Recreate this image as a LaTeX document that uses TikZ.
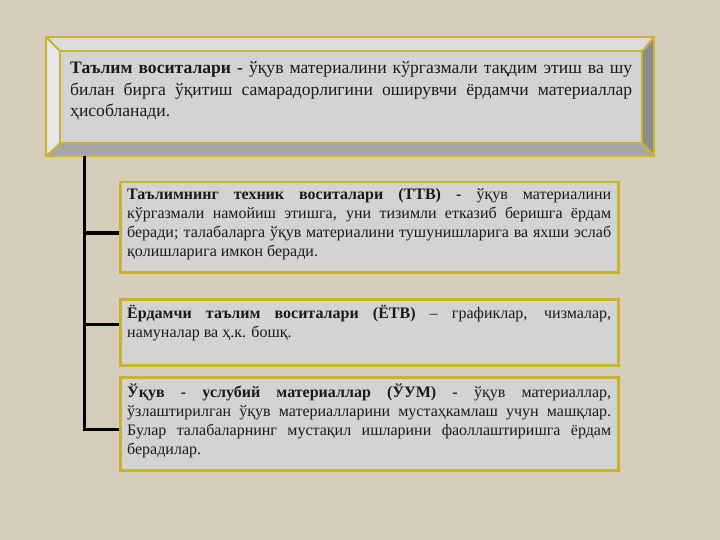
\documentclass[tikz,border=0pt]{standalone}
\usepackage{fontspec}
\setmainfont{Liberation Serif}
\definecolor{bgc}{HTML}{D6CDBA}
\definecolor{boxfill}{HTML}{D3D3D3}
\definecolor{ybord}{HTML}{C9B42E}
\definecolor{facetop}{HTML}{DCDCDC}
\definecolor{faceleft}{HTML}{E6E6E6}
\definecolor{faceright}{HTML}{8C8C8C}
\definecolor{facebot}{HTML}{A6A6A6}
\definecolor{txtc}{HTML}{1A1A1A}
\tikzset{
  subbox/.style={draw=ybord, line width=2.5pt, fill=boxfill, inner sep=0pt, anchor=north west},
  topframe/.style={inner sep=0pt, anchor=north west},
  txt/.style={inner sep=0pt, anchor=base west, text=txtc},
  conn/.style={line width=3pt, black},
  yline/.style={draw=ybord, line width=2pt, line join=miter}
}
\begin{document}
\begin{tikzpicture}[x=1pt,y=-1pt]
\useasboundingbox (0,0) rectangle (720,540);
\fill[bgc] (0,0) rectangle (720,540);

% top bevelled box
\node[topframe, minimum width=608pt, minimum height=119pt] (top) at (46,37) {};
\node[topframe, minimum width=582pt, minimum height=92pt] (topin) at (60,51) {};
\fill[facetop] (top.north west) -- (top.north east) -- (topin.north east) -- (topin.north west) -- cycle;
\fill[faceright] (top.north east) -- (top.south east) -- (topin.south east) -- (topin.north east) -- cycle;
\fill[facebot] (top.south west) -- (top.south east) -- (topin.south east) -- (topin.south west) -- cycle;
\fill[faceleft] (top.north west) -- (top.south west) -- (topin.south west) -- (topin.north west) -- cycle;
\fill[boxfill] (topin.north west) rectangle (topin.south east);
\draw[yline] (top.north west) rectangle (top.south east);
\draw[yline] (topin.north west) rectangle (topin.south east);
\draw[yline] (top.north west) -- (topin.north west);
\draw[yline] (top.north east) -- (topin.north east);
\draw[yline] (top.south east) -- (topin.south east);
\draw[yline] (top.south west) -- (topin.south west);

\node[txt] (t0) at (70,74) {\parbox[t]{562pt}{\fontsize{17.6}{21.5}\selectfont\hyphenpenalty=10000\exhyphenpenalty=10000
\textbf{Таълим воситалари -} ўқув материалини кўргазмали тақдим этиш ва шу\linebreak билан бирга ўқитиш самарадорлигини оширувчи ёрдамчи материаллар\linebreak ҳисобланади.}};

% sub boxes
\node[subbox, minimum width=498pt, minimum height=90pt] (b1) at (119,181) {};
\node[subbox, minimum width=498pt, minimum height=66pt] (b2) at (119,298) {};
\node[subbox, minimum width=498pt, minimum height=93pt] (b3) at (119,376) {};

\node[txt] (t1) at (127,200) {\parbox[t]{484pt}{\fontsize{16}{19}\selectfont\hyphenpenalty=10000\exhyphenpenalty=10000
\textbf{Таълимнинг техник воситалари (ТТВ) -} ўқув материалини\linebreak кўргазмали намойиш этишга, уни тизимли етказиб беришга ёрдам\linebreak беради; талабаларга ўқув материалини тушунишларига ва яхши эслаб\linebreak қолишларига имкон беради.}};

\node[txt] (t2) at (127,318) {\parbox[t]{484pt}{\fontsize{16}{19}\selectfont\hyphenpenalty=10000\exhyphenpenalty=10000
\textbf{Ёрдамчи таълим воситалари (ЁТВ)} – графиклар, чизмалар,\linebreak намуналар ва ҳ.к. бошқ.}};

\node[txt] (t3) at (127,397) {\parbox[t]{484pt}{\fontsize{16}{19}\selectfont\hyphenpenalty=10000\exhyphenpenalty=10000
\textbf{Ўқув - услубий материаллар (ЎУМ) -} ўқув материаллар,\linebreak ўзлаштирилган ўқув материалларини мустаҳкамлаш учун машқлар.\linebreak Булар талабаларнинг мустақил ишларини фаоллаштиришга ёрдам\linebreak берадилар.}};

% connectors
\coordinate (s0) at (84,156);
\coordinate (c1) at (84,233);
\coordinate (c2) at (84,324);
\coordinate (c3) at (84,429);
\draw[conn] (s0) -- (c3 -| s0) -- (c3 -| b3.west);
\draw[conn] (c1) -- (c1 -| b1.west);
\draw[conn] (c2) -- (c2 -| b2.west);
\end{tikzpicture}
\end{document}
